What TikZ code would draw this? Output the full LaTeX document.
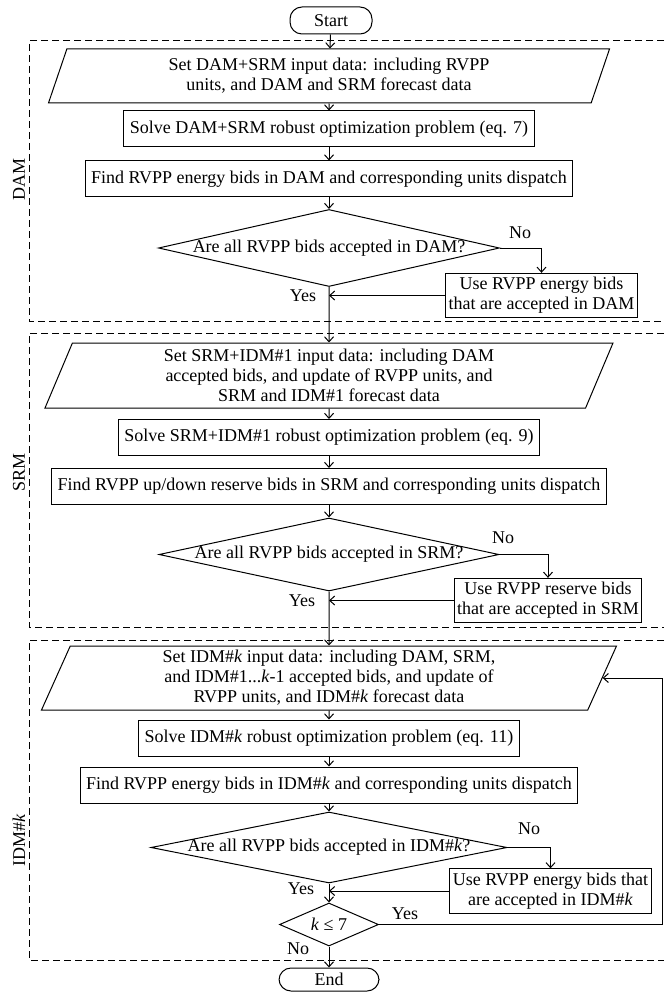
\documentclass[tikz,border=0pt]{standalone}
\usepackage{fontspec}
\setmainfont{Liberation Serif}
\usetikzlibrary{shapes.geometric,arrows.meta}
\tikzset{
	term/.style={draw, rectangle, rounded corners=12pt, minimum height=25pt},
	io/.style={draw, trapezium, trapezium left angle=62.5, trapezium right angle=117.5, trapezium stretches body, align=center, inner sep=0pt},
	proc/.style={draw, rectangle, minimum height=36pt, inner xsep=6pt},
	usebox/.style={draw, rectangle, align=center, inner xsep=3pt, inner ysep=4pt},
	decision/.style={draw, diamond, inner sep=0pt},
	arr/.style={-{Straight Barb[length=5pt,width=9pt]}},
	group/.style={dash pattern=on 7pt off 4pt},
	tag/.style={rotate=90}
}
\begin{document}
\begin{tikzpicture}[x=1pt, y=-1pt, line width=1pt, font=\fontsize{18pt}{20pt}\selectfont]
	\useasboundingbox (0,0) rectangle (664,992);
	% groups
	\draw[group] (664,41) -- (29,41) -- (29,321) -- (664,321);
	\draw[group] (664,333) -- (29,333) -- (29,627) -- (664,627);
	\draw[group] (664,640) -- (29,640) -- (29,960) -- (664,960);
	\node[tag] (damlbl) at (19,179) {DAM};
	\node[tag] (srmlbl) at (19,472) {SRM};
	\node[tag] (idmlbl) at (19,840) {IDM\#\textit{k}};

	\node[term, minimum width=82pt, minimum height=27pt] (start) at (331,20.5) {Start};

	% DAM
	\node[io, minimum width=561pt, minimum height=54pt] (in1) at (329,76) {Set DAM+SRM input data: including RVPP\\units, and DAM and SRM forecast data};
	\node[proc] (solve1) at (329,129) {Solve DAM+SRM robust optimization problem (eq. 7)};
	\node[proc] (find1) at (329,179) {Find RVPP energy bids in DAM and corresponding units dispatch};
	\node[decision, minimum width=341pt, minimum height=77pt] (dec1) at (329,248) {\makebox[0pt]{Are all RVPP bids accepted in DAM?}};
	\node[usebox] (use1) at (541.5,295.5) {Use RVPP energy bids\\that are accepted in DAM};
	\node (no1) at (520,233) {No};
	\node (yes1) at (303,296) {Yes};

	% SRM
	\node[io, minimum width=568pt, minimum height=65pt] (in2) at (329,375.5) {Set SRM+IDM\#1 input data: including DAM\\accepted bids, and update of RVPP units, and\\SRM and IDM\#1 forecast data};
	\node[proc] (solve2) at (329,437.5) {Solve SRM+IDM\#1 robust optimization problem (eq. 9)};
	\node[proc] (find2) at (329,486.5) {Find RVPP up/down reserve bids in SRM and corresponding units dispatch};
	\node[decision, minimum width=340pt, minimum height=73pt] (dec2) at (329,554.5) {\makebox[0pt]{Are all RVPP bids accepted in SRM?}};
	\node[usebox] (use2) at (548,600.5) {Use RVPP reserve bids\\that are accepted in SRM};
	\node (no2) at (503,538) {No};
	\node (yes2) at (302,601) {Yes};

	% IDM#k
	\node[io, minimum width=575pt, minimum height=64pt] (in3) at (329,678) {Set IDM\#\textit{k} input data: including DAM, SRM,\\and IDM\#1...\textit{k}-1 accepted bids, and update of\\RVPP units, and IDM\#\textit{k} forecast data};
	\node[proc] (solve3) at (329,738) {Solve IDM\#\textit{k} robust optimization problem (eq. 11)};
	\node[proc] (find3) at (329,785) {Find RVPP energy bids in IDM\#\textit{k} and corresponding units dispatch};
	\node[decision, minimum width=356pt, minimum height=71pt] (dec3) at (329,847.5) {\makebox[0pt]{Are all RVPP bids accepted in IDM\#\textit{k}?}};
	\node[usebox] (use3) at (550.5,891) {Use RVPP energy bids that\\are accepted in IDM\#\textit{k}};
	\node (no3) at (529,829) {No};
	\node (yes3) at (301,889) {Yes};
	\node[decision, minimum width=99pt, minimum height=43pt] (kdec) at (329,924.5) {\makebox[0pt]{\textit{k} ≤ 7}};
	\node (yes4) at (405,914) {Yes};
	\node (no4) at (298,949) {No};
	\coordinate (loopx) at (662,0);

	\node[term, minimum width=100pt, minimum height=23pt] (end) at (329,979.5) {End};

	% connectors
	\draw[arr] (start) -- (in1);
	\draw[arr] (in1) -- (solve1);
	\draw[arr] (solve1) -- (find1);
	\draw[arr] (find1) -- (dec1);
	\draw[arr] (dec1.east) -| (use1.north);
	\draw[arr] (use1.west) -- (use1.west -| dec1.south);
	\draw[arr] (dec1.south) -- (in2.north);
	\draw[arr] (in2) -- (solve2);
	\draw[arr] (solve2) -- (find2);
	\draw[arr] (find2) -- (dec2);
	\draw[arr] (dec2.east) -| (use2.north);
	\draw[arr] (use2.west) -- (use2.west -| dec2.south);
	\draw[arr] (dec2.south) -- (in3.north);
	\draw[arr] (in3) -- (solve3);
	\draw[arr] (solve3) -- (find3);
	\draw[arr] (find3) -- (dec3);
	\draw[arr] (dec3.east) -| (use3.north);
	\draw[arr] (use3.west) -- (use3.west -| dec3.south);
	\draw[arr] (dec3.south) -- (kdec.north);
	\draw[arr] (kdec.east) -- (kdec.east -| loopx) |- (in3.east);
	\draw[arr] (kdec.south) -- (end.north);
\end{tikzpicture}
\end{document}
